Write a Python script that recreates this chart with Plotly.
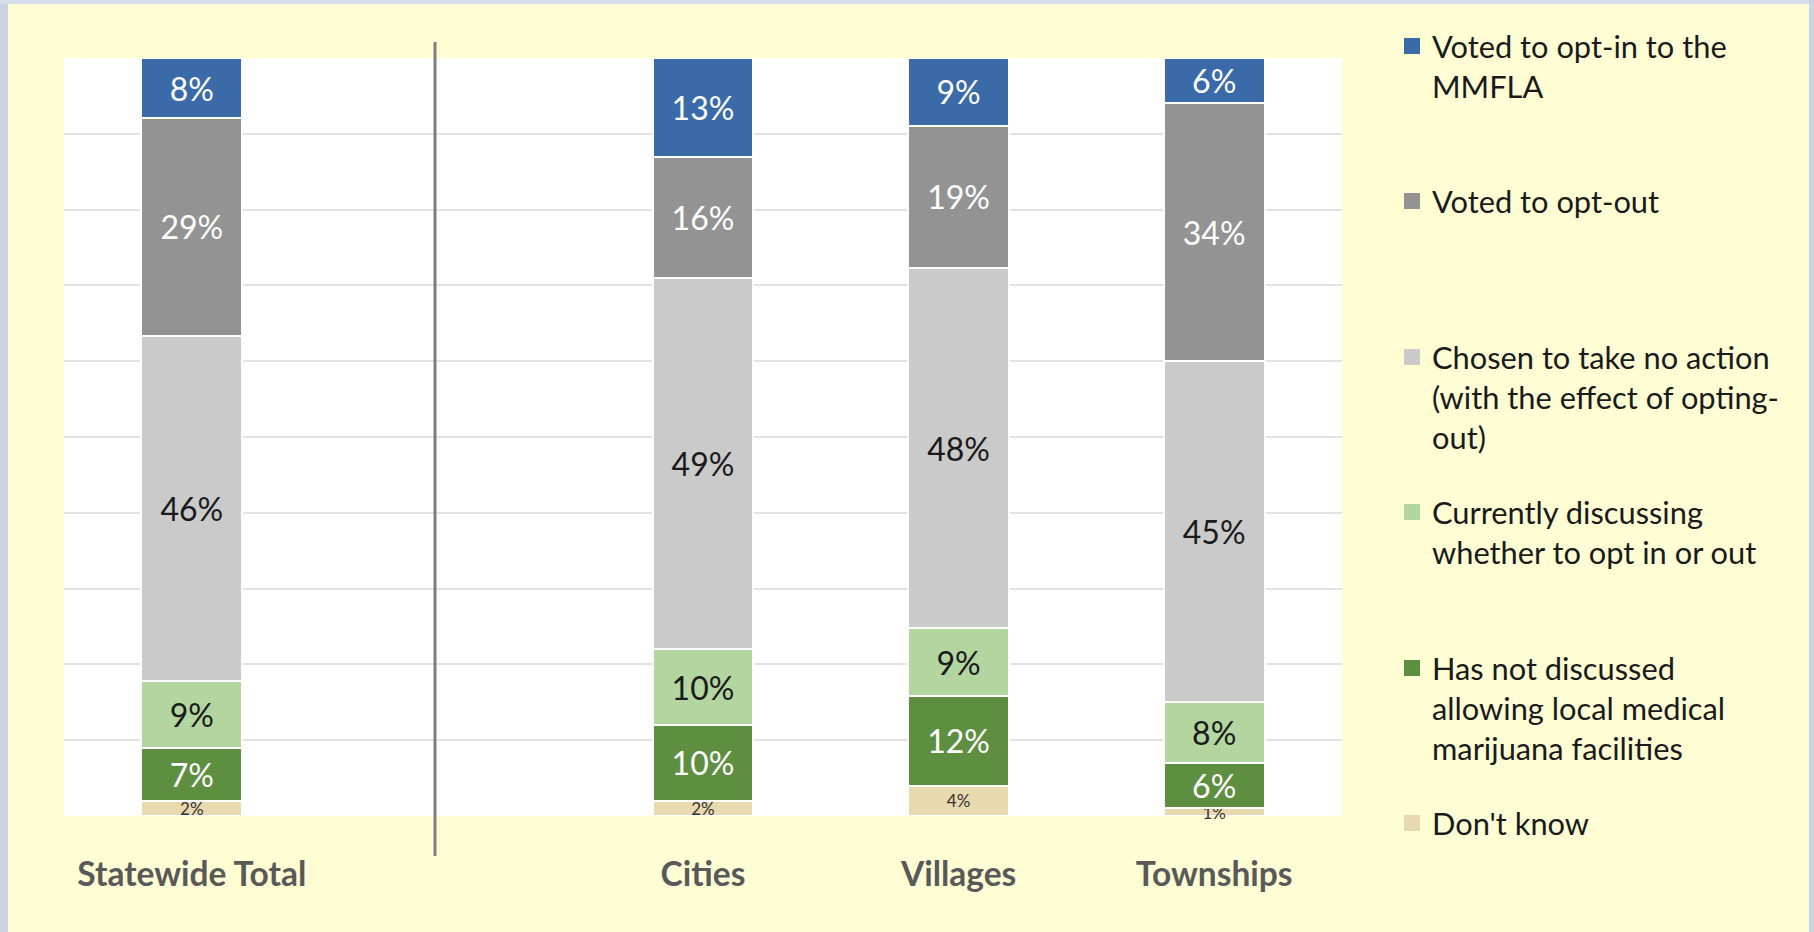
import plotly.graph_objects as go

W, H = 1814, 932
L, R, T, B = 64, 472, 58, 116

categories = ["Statewide Total", " ", "Cities", "Villages", "Townships"]

series_names = [
    "Don't know",
    "Has not discussed<br>allowing local medical<br>marijuana facilities",
    "Currently discussing<br>whether to opt in or out",
    "Chosen to take no action<br>(with the effect of opting-<br>out)",
    "Voted to opt-out",
    "Voted to opt-in to the<br>MMFLA",
]
dont_know = [2, None, 2, 4, 1]
not_discussed = [7, None, 10, 12, 6]
discussing = [9, None, 10, 9, 8]
no_action = [46, None, 49, 48, 45]
opt_out = [29, None, 16, 19, 34]
opt_in = [8, None, 13, 9, 6]
series_values = [dont_know, not_discussed, discussing, no_action, opt_out, opt_in]

colors = ["#E8D9AE", "#5E8F41", "#B3D5A0", "#CACACA", "#939393", "#3A6AA8"]
text_colors = ["#333333", "#FFFFFF", "#1A1A1A", "#1A1A1A", "#FFFFFF", "#FFFFFF"]
text_sizes = [17, 32, 32, 32, 32, 32]

# rounded labels add up to 100-101%, bars are drawn as shares of the column total
totals = [sum(s[i] for s in series_values) if series_values[0][i] is not None else None
          for i in range(len(categories))]

fig = go.Figure()

for name, vals, c, tc, ts in zip(series_names, series_values, colors, text_colors, text_sizes):
    shares = [v / t * 100 if v is not None else None for v, t in zip(vals, totals)]
    fig.add_trace(go.Bar(
        x=categories, y=shares, name=name, legendgroup=name, showlegend=False,
        marker=dict(color=c, line=dict(color="white", width=2)),
        text=[f"{v}%" if v is not None else "" for v in vals],
        textposition="inside", textangle=0, constraintext="none",
        insidetextanchor="middle", cliponaxis=False,
        textfont=dict(family="Lato", size=ts, color=tc),
        hovertemplate="%{x}: %{text}<extra></extra>",
    ))

pw = W - L - R
ph = H - T - B
def px_x(x):
    return (x - L) / pw
def px_y(y):
    return (H - B - y) / ph

# one legend box per entry so the entries sit evenly like the original
legend_font = 30.8
legend_line_centers = [46, 201, 357, 512, 668, 823]
legend_layouts = {}
for i, (name, c) in enumerate(zip(series_names[::-1], colors[::-1])):
    key = "legend" if i == 0 else f"legend{i + 1}"
    fig.add_trace(go.Scatter(
        x=[None], y=[None], mode="markers", name=name, legendgroup=name,
        legend=key,
        marker=dict(symbol="square", size=16, color=c, line=dict(width=0)),
    ))
    top = legend_line_centers[i] - (6.5 + legend_font * 1.3 / 2)
    legend_layouts[key] = dict(
        x=px_x(1392), y=px_y(top), xanchor="left", yanchor="top",
        bgcolor="rgba(0,0,0,0)", valign="top",
        font=dict(family="Lato", size=legend_font, color="#1A1A1A"),
    )

shapes = [
    # separator between statewide total and the breakdown
    dict(type="line", xref="paper", yref="paper", x0=px_x(435), x1=px_x(435),
         y0=px_y(856), y1=px_y(42), line=dict(color="#7F7F7F", width=3)),
    # window edges
    dict(type="rect", xref="paper", yref="paper", x0=px_x(0), x1=px_x(8),
         y0=px_y(H), y1=px_y(0), fillcolor="#C9D3E3", line=dict(width=0), layer="above"),
    dict(type="rect", xref="paper", yref="paper", x0=px_x(0), x1=px_x(W),
         y0=px_y(4), y1=px_y(0), fillcolor="#D6DEEA", line=dict(width=0), layer="above"),
    dict(type="rect", xref="paper", yref="paper", x0=px_x(1809), x1=px_x(W),
         y0=px_y(H), y1=px_y(0), fillcolor="#C9D3E3", line=dict(width=0), layer="above"),
]

fig.update_layout(
    width=W, height=H,
    barmode="stack", bargap=0.605,
    paper_bgcolor="#FFFDD3", plot_bgcolor="white",
    margin=dict(l=L, r=R, t=T, b=B),
    font=dict(family="Lato", color="#1A1A1A"),
    showlegend=True,
    shapes=shapes,
    **legend_layouts,
)
fig.update_xaxes(
    type="category", showgrid=False, showline=False, ticks="",
    tickfont=dict(family="Lato", size=33.5, color="#595959", weight="bold"),
    ticklabelstandoff=35,
)
fig.update_yaxes(
    range=[0, 100], dtick=10, showticklabels=False, showgrid=True,
    gridcolor="#E2E2E2", gridwidth=2, zeroline=False, fixedrange=True,
)

fig.write_html(
    "out.html",
    config={"displayModeBar": False},
    post_script="document.body.style.margin='0';document.body.style.overflow='hidden';",
)
